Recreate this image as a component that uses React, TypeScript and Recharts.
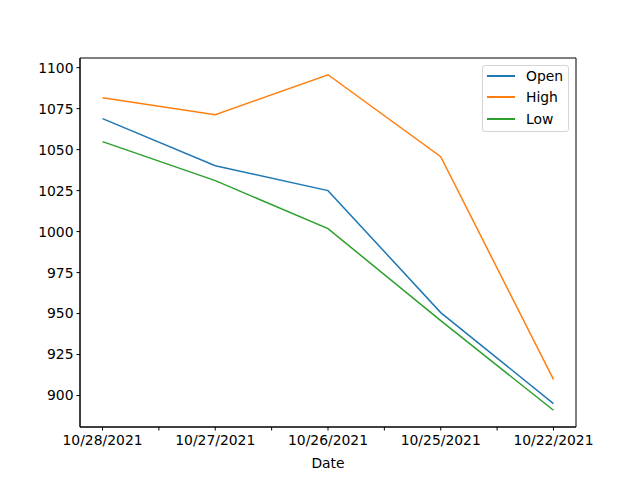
import React from "react";
import { LineChart, Line, XAxis, YAxis, ReferenceArea } from "recharts";

const dates = ["10/28/2021", "10/27/2021", "10/26/2021", "10/25/2021", "10/22/2021"];
const openVals = [1068.9, 1040.2, 1025.0, 950.6, 895.1];
const highVals = [1081.7, 1071.3, 1095.7, 1045.7, 909.8];
const lowVals = [1054.9, 1031.1, 1001.8, 945.7, 891.0];
const yTicks = [900, 925, 950, 975, 1000, 1025, 1050, 1075, 1100];
const xTicks = [0, 0.5, 1, 1.5, 2, 2.5, 3, 3.5, 4];

const series = [
  { key: "Open", color: "#1f77b4" },
  { key: "High", color: "#ff7f0e" },
  { key: "Low", color: "#2ca02c" },
];

const data = dates.map((d, i) => ({
  idx: i,
  date: d,
  Open: openVals[i],
  High: highVals[i],
  Low: lowVals[i],
}));

const FONT = "DejaVu Sans, sans-serif";
const FS = 13.9;
const X_DOMAIN: [number, number] = [-0.2, 4.2];
const Y_DOMAIN: [number, number] = [880.8, 1105.9];

// matplotlib-style legend box, top right
function LegendBox() {
  return (
    <div
      style={{
        position: "absolute",
        left: 482,
        top: 65,
        width: 87,
        height: 67,
        border: "1px solid #d5d5d5",
        borderRadius: 3,
        background: "rgba(255,255,255,0.8)",
        fontFamily: FONT,
        fontSize: FS,
        boxSizing: "border-box",
      }}
    >
      <div style={{ marginTop: -1 }}>
        {series.map((s) => (
          <div key={s.key} style={{ display: "flex", alignItems: "center", height: 21.5 }}>
            <div style={{ width: 28, height: 2, background: s.color, marginLeft: 4, marginRight: 11 }} />
            <span style={{ color: "#000" }}>{s.key}</span>
          </div>
        ))}
      </div>
    </div>
  );
}

export default function App() {
  return (
    <div style={{ position: "absolute", left: 0, top: 0, width: 640, height: 480, background: "#fff" }}>
      <LineChart
        width={640}
        height={480}
        data={data}
        margin={{ top: 58, right: 64, bottom: 0, left: 0 }}
      >
        <XAxis
          dataKey="idx"
          type="number"
          domain={X_DOMAIN}
          ticks={xTicks}
          allowDataOverflow
          interval={0}
          height={53}
          stroke="#000"
          tickSize={3.5}
          tickMargin={5}
          tick={{ fontSize: FS, fill: "#000", fontFamily: FONT }}
          tickFormatter={(v: number) => (Number.isInteger(v) ? dates[v] : "")}
          label={{ value: "Date", position: "insideBottom", offset: 12, fontSize: FS, fill: "#000", fontFamily: FONT }}
        />
        <YAxis
          type="number"
          domain={Y_DOMAIN}
          ticks={yTicks}
          allowDataOverflow
          interval={0}
          width={80}
          stroke="#000"
          tickSize={3.5}
          tickMargin={3}
          tick={{ fontSize: FS, fill: "#000", fontFamily: FONT }}
        />
        {series.map((s) => (
          <Line
            key={s.key}
            dataKey={s.key}
            stroke={s.color}
            strokeWidth={1.5}
            dot={false}
            isAnimationActive={false}
            type="linear"
          />
        ))}
        <ReferenceArea
          x1={X_DOMAIN[0]}
          x2={X_DOMAIN[1]}
          y1={Y_DOMAIN[0]}
          y2={Y_DOMAIN[1]}
          fill="none"
          fillOpacity={0}
          stroke="#000"
          strokeWidth={1}
          ifOverflow="visible"
        />
      </LineChart>
      <LegendBox />
    </div>
  );
}
